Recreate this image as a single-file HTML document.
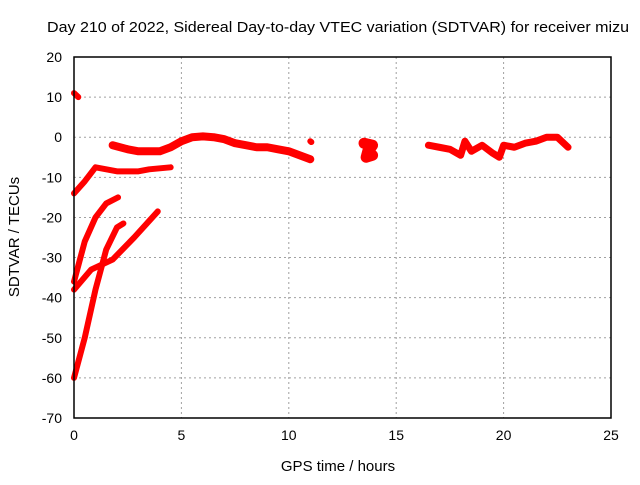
<!DOCTYPE html>
<html><head><meta charset="utf-8"><style>
body{margin:0;background:#fff;}
svg{font-family:"Liberation Sans",sans-serif;}
</style></head><body>
<svg id="chart" width="640" height="480">
<rect width="640" height="480" fill="#fff"/>
<g id="grid"></g><g id="series"></g><g id="axes"></g>
<text x="338" y="32" font-size="15" text-anchor="middle" textLength="582" lengthAdjust="spacingAndGlyphs">Day 210 of 2022, Sidereal Day-to-day VTEC variation (SDTVAR) for receiver mizu</text>
<text x="338" y="471" font-size="15" text-anchor="middle">GPS time / hours</text>
<text transform="translate(19,237) rotate(-90)" font-size="15" text-anchor="middle">SDTVAR / TECUs</text>
</svg>
<script>
const xTicks=[0,5,10,15,20,25];
const yTicks=[20,10,0,-10,-20,-30,-40,-50,-60,-70];
const seg1=[[0,11],[0.2,10]];
const seg2=[[0,-14],[0.5,-11],[1,-7.5],[1.5,-8],[2,-8.5],[3,-8.5],[3.5,-8],[4.5,-7.5]];
const seg3=[[1.8,-2],[2.5,-3],[3,-3.5],[3.5,-3.5],[4,-3.5],[4.5,-2.5],[5,-1],[5.5,0],[6,0.2],[6.5,0],[7,-0.5],[7.5,-1.5],[8,-2],[8.5,-2.5],[9,-2.5],[9.5,-3],[10,-3.5],[10.5,-4.5],[11,-5.5]];
const seg4=[[0,-60],[0.5,-50],[1,-38],[1.5,-28],[2,-22.5],[2.3,-21.5]];
const seg5=[[0,-36],[0.5,-26],[1,-20],[1.5,-16.5],[2.05,-15]];
const seg6=[[0,-38],[0.8,-33],[1.8,-30.5],[2.8,-25],[3.9,-18.5]];
const seg7=[[11,-1],[11.05,-1.2]];
const seg8=[[13.5,-1.5],[13.9,-2],[13.7,-3.5],[13.9,-4.5],[13.6,-5],[13.7,-3]];
const seg9=[[16.5,-2],[17,-2.5],[17.5,-3],[18,-4.5],[18.2,-1],[18.5,-3.5],[19,-2],[19.5,-4],[19.8,-5],[20,-2],[20.5,-2.5],[21,-1.5],[21.5,-1],[22,0],[22.5,0],[23,-2.5]];
const allSeries=[seg1,seg2,seg3,seg4,seg5,seg6,seg7,seg8,seg9];
const widths=[6,6,8,6,6,6,6,11,7];
const X0=74,X1=611,Y0=57,Y1=418,xmin=0,xmax=25,ymin=-70,ymax=20;
const sx=v=>X0+(v-xmin)/(xmax-xmin)*(X1-X0);
const sy=v=>Y1-(v-ymin)/(ymax-ymin)*(Y1-Y0);
const NS="http://www.w3.org/2000/svg";
function mk(t,a,p){const e=document.createElementNS(NS,t);for(const k in a)e.setAttribute(k,a[k]);p.appendChild(e);return e;}
const g=document.getElementById('grid'),s=document.getElementById('series'),ax=document.getElementById('axes');
xTicks.forEach(t=>{
 if(t>xmin&&t<xmax){const l=mk('line',{x1:sx(t),x2:sx(t),y1:Y0,y2:Y1,stroke:'#a0a0a0','stroke-dasharray':'2,3'},g);
 
 }
 const tx=mk('text',{x:sx(t),y:Y1+22,'font-size':14,'text-anchor':'middle'},ax);tx.textContent=t;
 
 
});
yTicks.forEach(t=>{
 if(t>ymin&&t<ymax){const l=mk('line',{x1:X0,x2:X1,y1:sy(t),y2:sy(t),stroke:'#a0a0a0','stroke-dasharray':'2,3'},g);
 
 }
 const tx=mk('text',{x:X0-12,y:sy(t)+5,'font-size':14,'text-anchor':'end'},ax);tx.textContent=t;
 
 
});
const b=mk('rect',{x:X0,y:Y0,width:X1-X0,height:Y1-Y0,fill:'none',stroke:'#000','stroke-width':1.5},ax);


allSeries.forEach((sr,i)=>{
 const p=mk('polyline',{points:sr.map(d=>sx(d[0])+','+sy(d[1])).join(' '),fill:'none',stroke:'#ff0000','stroke-width':widths[i],'stroke-linejoin':'round','stroke-linecap':'round'},s);
 
 
});
</script>
</body></html>
